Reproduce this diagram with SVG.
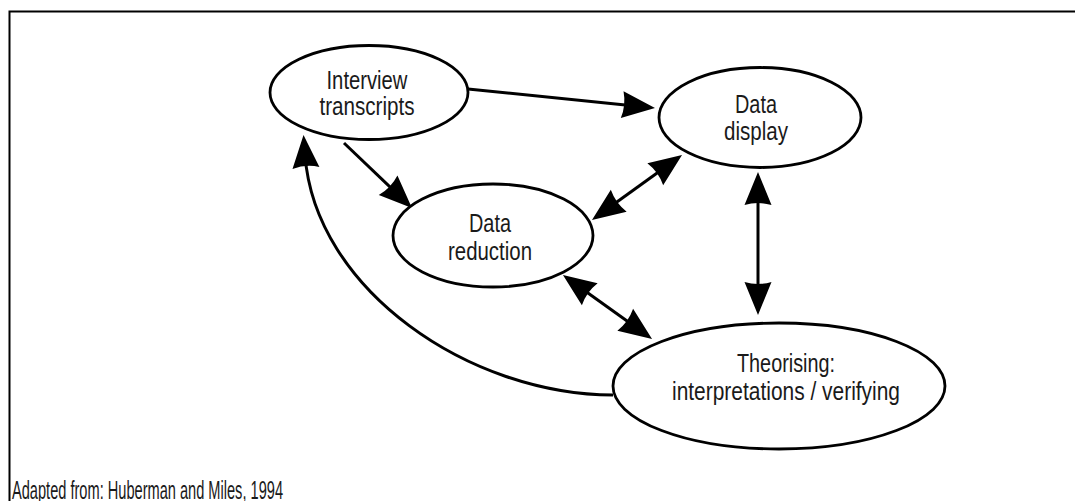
<svg xmlns="http://www.w3.org/2000/svg" width="1075" height="501" viewBox="0 0 1075 501">
  <style>
    .node { fill: #ffffff; stroke: #000000; stroke-width: 2.8; }
    .label { font-family: "Liberation Sans", Arial, sans-serif; font-size: 25px; fill: #1a1a1a; text-anchor: middle; }
    .edge { fill: none; stroke: #000000; stroke-width: 3; }
    .frame { fill: none; stroke: #000000; stroke-width: 2; }
  </style>
  <defs>
    <!-- solid arrowhead; tip sits 20px past the line end so the stroke stays hidden inside the head -->
    <marker id="head" markerUnits="userSpaceOnUse" viewBox="-14 -15 36 30" refX="0" refY="0" markerWidth="36" markerHeight="30" orient="auto-start-reverse">
      <path d="M20,0 L-13,-13.5 Q-9,0 -13,13.5 Z" fill="#000000"/>
    </marker>
  </defs>

  <rect width="1075" height="501" fill="#ffffff"/>

  <!-- open frame: top and left rules only -->
  <path class="frame" d="M9.5,501 L9.5,11.5 L1075,11.5"/>

  <g id="connectors">
    <!-- Interview transcripts -> Data display -->
    <path class="edge" d="M468,89 L635.1,106" marker-end="url(#head)"/>
    <!-- Interview transcripts -> Data reduction -->
    <path class="edge" d="M344,143 L397.5,194.2" marker-end="url(#head)"/>
    <!-- Data reduction <-> Data display -->
    <path class="edge" d="M608.2,208.3 L665.8,166.7" marker-start="url(#head)" marker-end="url(#head)"/>
    <!-- Data display <-> Theorising -->
    <path class="edge" d="M758,192 L758,295" marker-start="url(#head)" marker-end="url(#head)"/>
    <!-- Data reduction <-> Theorising -->
    <path class="edge" d="M579.2,286.7 L635.8,327.3" marker-start="url(#head)" marker-end="url(#head)"/>
    <!-- Theorising -> Interview transcripts (feedback loop) -->
    <path class="edge" d="M613,395 C470,395 315,290 305,155" marker-end="url(#head)"/>
  </g>

  <!-- labels use a condensed set: widths fixed per line -->
  <g id="interview-transcripts">
    <ellipse class="node" cx="369" cy="92.5" rx="99" ry="47"/>
    <text class="label" x="367" y="89" textLength="81" lengthAdjust="spacingAndGlyphs">Interview</text>
    <text class="label" x="367" y="115" textLength="95" lengthAdjust="spacingAndGlyphs">transcripts</text>
  </g>

  <g id="data-display">
    <ellipse class="node" cx="760" cy="117.5" rx="101" ry="50"/>
    <text class="label" x="756" y="113" textLength="42" lengthAdjust="spacingAndGlyphs">Data</text>
    <text class="label" x="756" y="140" textLength="64" lengthAdjust="spacingAndGlyphs">display</text>
  </g>

  <g id="data-reduction">
    <ellipse class="node" cx="493" cy="235.5" rx="100" ry="51.5"/>
    <text class="label" x="490" y="232" textLength="42" lengthAdjust="spacingAndGlyphs">Data</text>
    <text class="label" x="490" y="260" textLength="84" lengthAdjust="spacingAndGlyphs">reduction</text>
  </g>

  <g id="theorising">
    <ellipse class="node" cx="779" cy="386" rx="166" ry="63"/>
    <text class="label" x="786" y="372" textLength="98" lengthAdjust="spacingAndGlyphs">Theorising:</text>
    <text class="label" x="786" y="400" textLength="228" lengthAdjust="spacingAndGlyphs">interpretations / verifying</text>
  </g>

  <text class="label" x="12" y="499" style="text-anchor:start" textLength="271" lengthAdjust="spacingAndGlyphs">Adapted from: Huberman and Miles, 1994</text>
</svg>
